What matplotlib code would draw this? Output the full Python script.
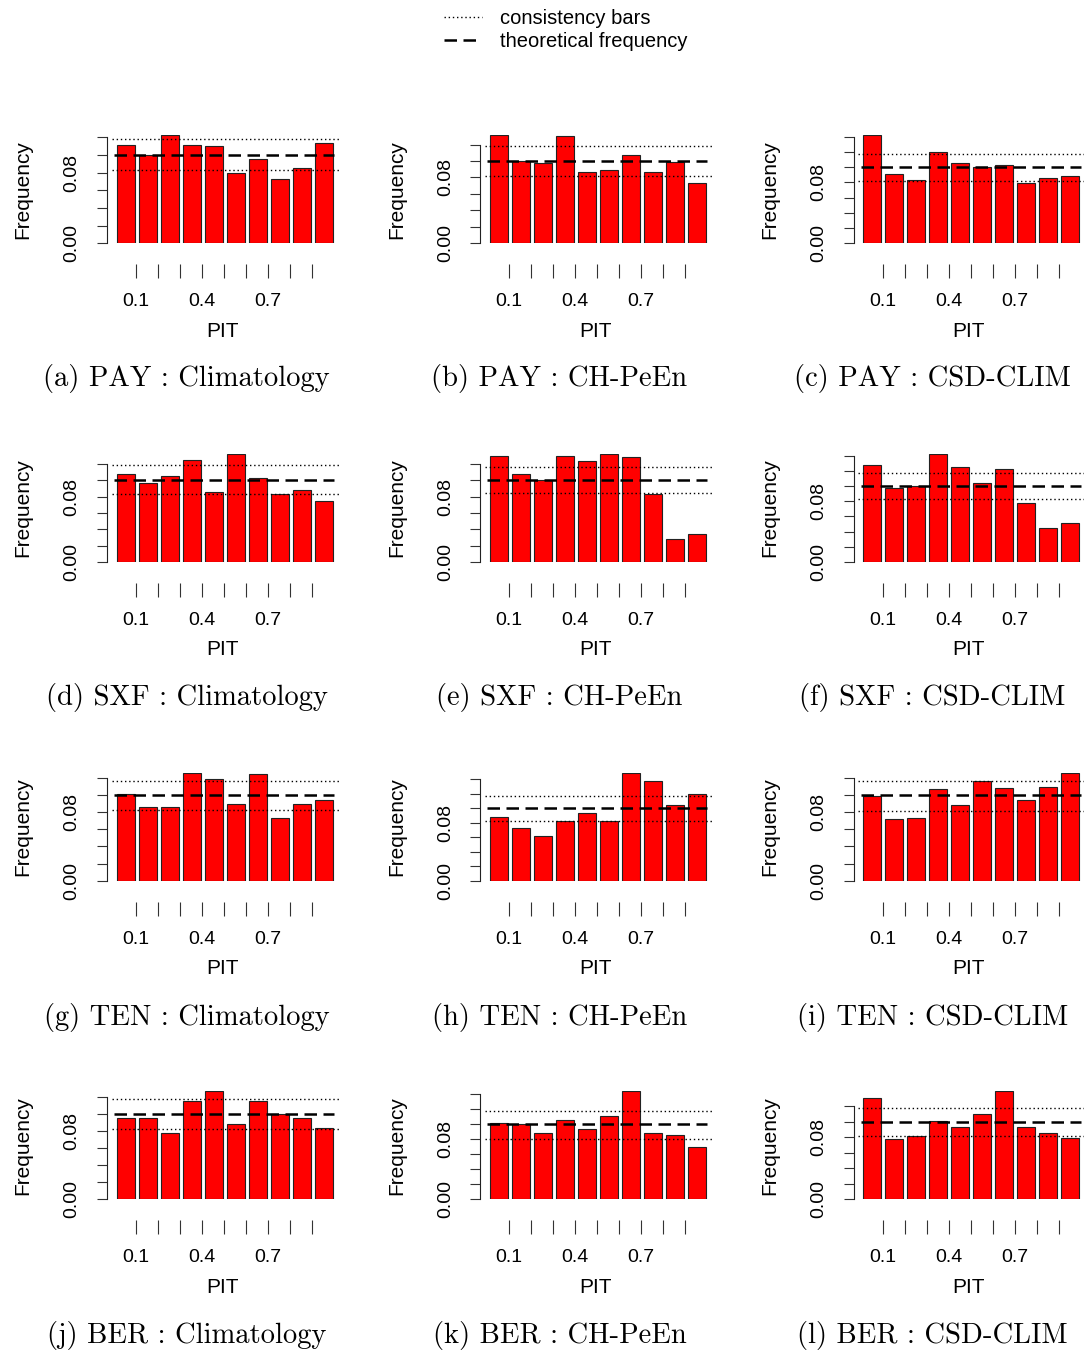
import matplotlib.pyplot as plt
from matplotlib.lines import Line2D
import numpy as np

plt.rcParams['font.family'] = ['Liberation Sans', 'DejaVu Sans']

# PIT bin edges (10 bins) and the theoretical frequency of a flat histogram
pit_edges = np.round(np.arange(0, 1.01, 0.1), 2)
theo_freq = 0.1

# relative frequencies, one list per panel
pay_clim = [0.1116, 0.0993, 0.1221, 0.1116, 0.1105, 0.0798, 0.0955, 0.0723, 0.0854, 0.1135]
pay_chpeen = [0.1313, 0.0997, 0.0981, 0.1301, 0.0871, 0.0888, 0.1078, 0.0871, 0.0985, 0.0730]
pay_csd = [0.1417, 0.0910, 0.0836, 0.1194, 0.1059, 0.0997, 0.1028, 0.0787, 0.0853, 0.0888]
sxf_clim = [0.1074, 0.0965, 0.1058, 0.1248, 0.0851, 0.1321, 0.1026, 0.0835, 0.0884, 0.0742]
sxf_chpeen = [0.1297, 0.1074, 0.0997, 0.1297, 0.1232, 0.1321, 0.1281, 0.0835, 0.0284, 0.0340]
sxf_csd = [0.1279, 0.0980, 0.1002, 0.1424, 0.1257, 0.1037, 0.1222, 0.0774, 0.0448, 0.0519]
ten_clim = [0.1008, 0.0864, 0.0864, 0.1261, 0.1183, 0.0895, 0.1245, 0.0728, 0.0895, 0.0942]
ten_chpeen = [0.0876, 0.0733, 0.0621, 0.0821, 0.0937, 0.0821, 0.1493, 0.1382, 0.1043, 0.1205]
ten_csd = [0.0988, 0.0716, 0.0732, 0.1066, 0.0883, 0.1163, 0.1078, 0.0942, 0.1097, 0.1261]
ber_clim = [0.0961, 0.0961, 0.0784, 0.1161, 0.1271, 0.0886, 0.1161, 0.1000, 0.0961, 0.0843]
ber_chpeen = [0.1022, 0.1000, 0.0880, 0.1058, 0.0933, 0.1111, 0.1440, 0.0880, 0.0862, 0.0702]
ber_csd = [0.1310, 0.0780, 0.0820, 0.1010, 0.0935, 0.1100, 0.1390, 0.0935, 0.0857, 0.0790]

# consistency bars (upper / lower) per panel
cons_upper = [0.1180, 0.1188, 0.1172, 0.1188, 0.1167, 0.1169,
              0.1169, 0.1173, 0.1167, 0.1176, 0.1178, 0.1170]
cons_lower = [0.0828, 0.0823, 0.0818, 0.0835, 0.0843, 0.0826,
              0.0829, 0.0825, 0.0817, 0.0824, 0.0809, 0.0820]

panels = [pay_clim, pay_chpeen, pay_csd,
          sxf_clim, sxf_chpeen, sxf_csd,
          ten_clim, ten_chpeen, ten_csd,
          ber_clim, ber_chpeen, ber_csd]
captions = ["(a) PAY : Climatology", "(b) PAY : CH-PeEn", "(c) PAY : CSD-CLIM",
            "(d) SXF : Climatology", "(e) SXF : CH-PeEn", "(f) SXF : CSD-CLIM",
            "(g) TEN : Climatology", "(h) TEN : CH-PeEn", "(i) TEN : CSD-CLIM",
            "(j) BER : Climatology", "(k) BER : CH-PeEn", "(l) BER : CSD-CLIM"]
xtick_labels = ['0.1', '', '', '0.4', '', '', '0.7', '', '']

W, H = 1084, 1353
fig = plt.figure(figsize=(W / 100, H / 100), dpi=100)

pxu = 220.0        # pixels per PIT unit
xlo, xhi = -0.035, 1.03

for k, h in enumerate(panels):
    r, c = divmod(k, 3)
    x0 = 114 + c * 373.3
    y0 = 243.3 + r * 318.7
    left = x0 + xlo * pxu
    width = (xhi - xlo) * pxu
    ax = fig.add_axes([left / W, 1 - y0 / H, width / W, 108 / H])

    ax.bar(pit_edges[:-1] + 0.012, h, width=0.082, align='edge',
           color='#ff0000', edgecolor='#222222', linewidth=0.8, zorder=2)
    ax.hlines([cons_upper[k], cons_lower[k]], -0.01, 1.025, colors='k',
              linestyles=[(0, (1, 2))], linewidth=1.0, zorder=3, clip_on=False)
    ax.hlines(theo_freq, pit_edges[0], pit_edges[-1], colors='k',
              linestyles=[(0, (5, 2.6))], linewidth=1.8, zorder=4)

    ymax = max(h)
    ax.set_xlim(xlo, xhi)
    ax.set_ylim(0, ymax)

    for s in ['top', 'right']:
        ax.spines[s].set_visible(False)
    ax.spines['bottom'].set_position(('outward', 15))
    ax.spines['bottom'].set_color('none')
    yt = np.round(np.arange(0, ymax + 1e-9, 0.02), 2)
    ax.spines['left'].set_position(('data', -0.032))
    ax.spines['left'].set_bounds(0, yt[-1])
    ax.spines['left'].set_linewidth(0.8)
    ax.spines['left'].set_color('#222222')

    ax.set_xticks(pit_edges[1:-1])
    ax.set_xticklabels(xtick_labels)
    ax.set_yticks(yt)
    ax.set_yticklabels(['%.2f' % v if v in (0.0, 0.08) else '' for v in yt],
                       rotation=90, va='center')
    ax.tick_params(axis='x', length=10, width=0.8, pad=11, labelsize=14,
                   color='#333333')
    ax.tick_params(axis='y', length=7, width=0.8, pad=12, labelsize=14,
                   color='#333333')

    ax.set_xlabel('PIT', fontsize=15)
    ax.xaxis.label.set_va('center')
    ax.xaxis.set_label_coords((x0 + 108 - left) / width, -88 / 108)
    ax.set_ylabel('Frequency', fontsize=15)
    ax.yaxis.label.set_va('center')
    ax.yaxis.set_label_coords((x0 - 91 - left) / width, 0.5)

    fig.text((186.5 + c * 373) / W, 1 - (379 + r * 319) / H, captions[k],
             family=['cmr10', 'DejaVu Serif'], fontsize=20.6,
             ha='center', va='center')

handles = [Line2D([], [], color='k', linestyle=(0, (1, 2)), linewidth=1.0),
           Line2D([], [], color='k', linestyle=(0, (5, 2.6)), linewidth=1.8)]
fig.legend(handles, ['consistency bars', 'theoretical frequency'],
           loc='upper left', bbox_to_anchor=(444 / W, 1 - 9 / H),
           frameon=False, fontsize=14.5, handlelength=1.9, handletextpad=0.9,
           labelspacing=0.2, borderpad=0, borderaxespad=0)

fig.savefig('out.png', dpi=100)
